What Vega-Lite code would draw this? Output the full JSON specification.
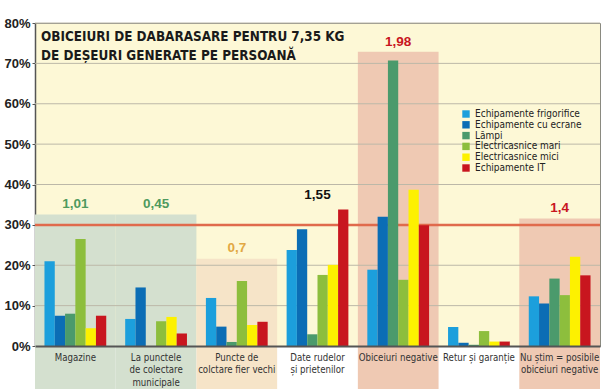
{
  "$schema": "https://vega.github.io/schema/vega-lite/v6.json",
  "width": 565,
  "height": 323,
  "autosize": {"type": "none"},
  "padding": {"left": 35, "top": 23, "right": 5, "bottom": 43},
  "background": "white",
  "config": {
    "view": {"fill": "#fdf8d6", "stroke": "#8a8a80", "strokeWidth": 1},
    "font": "'DejaVu Sans Condensed', 'Liberation Sans Narrow', Roboto, sans-serif"
  },
  "title": {
    "text": ["OBICEIURI DE DABARASARE PENTRU 7,35 KG", "DE DEȘEURI GENERATE PE PERSOANĂ"],
    "anchor": "start",
    "frame": "group",
    "orient": "top",
    "offset": -45,
    "dx": 6,
    "font": "'DejaVu Sans Condensed', 'Liberation Sans Narrow', Roboto, sans-serif",
    "fontSize": 13.4,
    "fontWeight": "bold",
    "color": "#1a1a1a",
    "lineHeight": 18.5
  },
  "datasets": {
    "bars": [
      {"loc": "Magazine", "tip": "Echipamente frigorifice", "pct": 21.0},
      {"loc": "Magazine", "tip": "Echipamente cu ecrane", "pct": 7.5},
      {"loc": "Magazine", "tip": "Lămpi", "pct": 8.0},
      {"loc": "Magazine", "tip": "Electricasnice mari", "pct": 26.5},
      {"loc": "Magazine", "tip": "Electricasnice mici", "pct": 4.4},
      {"loc": "Magazine", "tip": "Echipamente IT", "pct": 7.5},
      {"loc": "La punctele|de colectare|municipale", "tip": "Echipamente frigorifice", "pct": 6.7},
      {"loc": "La punctele|de colectare|municipale", "tip": "Echipamente cu ecrane", "pct": 14.5},
      {"loc": "La punctele|de colectare|municipale", "tip": "Lămpi", "pct": 0},
      {"loc": "La punctele|de colectare|municipale", "tip": "Electricasnice mari", "pct": 6.1},
      {"loc": "La punctele|de colectare|municipale", "tip": "Electricasnice mici", "pct": 7.2},
      {"loc": "La punctele|de colectare|municipale", "tip": "Echipamente IT", "pct": 3.1},
      {"loc": "Puncte de|colctare fier vechi", "tip": "Echipamente frigorifice", "pct": 11.9},
      {"loc": "Puncte de|colctare fier vechi", "tip": "Echipamente cu ecrane", "pct": 4.8},
      {"loc": "Puncte de|colctare fier vechi", "tip": "Lămpi", "pct": 1.0},
      {"loc": "Puncte de|colctare fier vechi", "tip": "Electricasnice mari", "pct": 16.1},
      {"loc": "Puncte de|colctare fier vechi", "tip": "Electricasnice mici", "pct": 5.2},
      {"loc": "Puncte de|colctare fier vechi", "tip": "Echipamente IT", "pct": 6.0},
      {"loc": "Date rudelor|și prietenilor", "tip": "Echipamente frigorifice", "pct": 23.8},
      {"loc": "Date rudelor|și prietenilor", "tip": "Echipamente cu ecrane", "pct": 28.9},
      {"loc": "Date rudelor|și prietenilor", "tip": "Lămpi", "pct": 2.9},
      {"loc": "Date rudelor|și prietenilor", "tip": "Electricasnice mari", "pct": 17.6},
      {"loc": "Date rudelor|și prietenilor", "tip": "Electricasnice mici", "pct": 20.1},
      {"loc": "Date rudelor|și prietenilor", "tip": "Echipamente IT", "pct": 33.8},
      {"loc": "Obiceiuri negative", "tip": "Echipamente frigorifice", "pct": 18.9},
      {"loc": "Obiceiuri negative", "tip": "Echipamente cu ecrane", "pct": 32.0},
      {"loc": "Obiceiuri negative", "tip": "Lămpi", "pct": 70.7},
      {"loc": "Obiceiuri negative", "tip": "Electricasnice mari", "pct": 16.4},
      {"loc": "Obiceiuri negative", "tip": "Electricasnice mici", "pct": 38.7},
      {"loc": "Obiceiuri negative", "tip": "Echipamente IT", "pct": 29.9},
      {"loc": "Retur și garanție", "tip": "Echipamente frigorifice", "pct": 4.7},
      {"loc": "Retur și garanție", "tip": "Echipamente cu ecrane", "pct": 0.8},
      {"loc": "Retur și garanție", "tip": "Lămpi", "pct": 0.3},
      {"loc": "Retur și garanție", "tip": "Electricasnice mari", "pct": 3.7},
      {"loc": "Retur și garanție", "tip": "Electricasnice mici", "pct": 1.1},
      {"loc": "Retur și garanție", "tip": "Echipamente IT", "pct": 1.1},
      {"loc": "Nu știm = posibile|obiceiuri negative", "tip": "Echipamente frigorifice", "pct": 12.3},
      {"loc": "Nu știm = posibile|obiceiuri negative", "tip": "Echipamente cu ecrane", "pct": 10.5},
      {"loc": "Nu știm = posibile|obiceiuri negative", "tip": "Lămpi", "pct": 16.7},
      {"loc": "Nu știm = posibile|obiceiuri negative", "tip": "Electricasnice mari", "pct": 12.6},
      {"loc": "Nu știm = posibile|obiceiuri negative", "tip": "Electricasnice mici", "pct": 22.1},
      {"loc": "Nu știm = posibile|obiceiuri negative", "tip": "Echipamente IT", "pct": 17.5}
    ],
    "boxes": [
      {"loc": "Magazine", "top": 32.6, "fel": "verde"},
      {"loc": "La punctele|de colectare|municipale", "top": 32.6, "fel": "verde"},
      {"loc": "Puncte de|colctare fier vechi", "top": 21.6, "fel": "bej"},
      {"loc": "Obiceiuri negative", "top": 72.9, "fel": "roz"},
      {"loc": "Nu știm = posibile|obiceiuri negative", "top": 31.6, "fel": "roz"}
    ],
    "notes": [
      {"loc": "Magazine", "y": 35.1, "txt": "1,01", "fel": "verde"},
      {"loc": "La punctele|de colectare|municipale", "y": 35.1, "txt": "0,45", "fel": "verde"},
      {"loc": "Puncte de|colctare fier vechi", "y": 24.2, "txt": "0,7", "fel": "aur"},
      {"loc": "Date rudelor|și prietenilor", "y": 37.5, "txt": "1,55", "fel": "negru"},
      {"loc": "Obiceiuri negative", "y": 75.3, "txt": "1,98", "fel": "rosu"},
      {"loc": "Nu știm = posibile|obiceiuri negative", "y": 34.3, "txt": "1,4", "fel": "rosu"}
    ],
    "grid": [
      {"g": 10}, {"g": 20}, {"g": 40}, {"g": 50}, {"g": 60}, {"g": 70}, {"g": 80}
    ],
    "ref": [{"v": 30}]
  },
  "resolve": {"scale": {"color": "independent", "fill": "independent"}},
  "layer": [
    {
      "data": {"name": "boxes"},
      "mark": {"type": "bar", "clip": false},
      "encoding": {
        "x": {
          "field": "loc",
          "type": "nominal",
          "sort": ["Magazine", "La punctele|de colectare|municipale", "Puncte de|colctare fier vechi", "Date rudelor|și prietenilor", "Obiceiuri negative", "Retur și garanție", "Nu știm = posibile|obiceiuri negative"],
          "scale": {"domain": ["Magazine", "La punctele|de colectare|municipale", "Puncte de|colctare fier vechi", "Date rudelor|și prietenilor", "Obiceiuri negative", "Retur și garanție", "Nu știm = posibile|obiceiuri negative"], "paddingInner": 0, "paddingOuter": 0},
          "axis": {
            "title": null,
            "labelExpr": "split(datum.label, '|')",
            "labelAngle": 0,
            "labelFontSize": 9.6,
            "labelColor": "#333333",
            "labelLineHeight": 12.5,
            "labelPadding": 6,
            "labelBaseline": "top",
            "ticks": false,
            "domainColor": "#555555",
            "domainWidth": 2,
            "zindex": 1
          }
        },
        "y": {"field": "top", "type": "quantitative", "scale": {"domain": [0, 80], "nice": false}, "axis": {
          "title": null,
          "values": [0, 10, 20, 30, 40, 50, 60, 70, 80],
          "labelExpr": "datum.value + '%'",
          "labelFont": "Liberation Sans",
          "labelFontWeight": "bold",
          "labelFontSize": 13,
          "labelColor": "#222222",
          "labelPadding": 2,
          "tickSize": 3,
          "tickColor": "#555555",
          "domainColor": "#555555",
          "domainWidth": 1.5,
          "grid": false
        }},
        "y2": {"datum": -12},
        "fill": {"field": "fel", "type": "nominal", "scale": {"domain": ["verde", "bej", "roz"], "range": ["#d4e0cf", "#f6e4c8", "#efc9b3"]}, "legend": null}
      }
    },
    {
      "data": {"name": "grid"},
      "mark": {"type": "rule", "color": "#bcb8a8", "strokeWidth": 1},
      "encoding": {"y": {"field": "g", "type": "quantitative"}}
    },
    {
      "data": {"name": "ref"},
      "mark": {"type": "rule", "color": "#e06a4c", "strokeWidth": 2.5},
      "encoding": {"y": {"field": "v", "type": "quantitative"}}
    },
    {
      "data": {"name": "bars"},
      "mark": {"type": "bar"},
      "encoding": {
        "x": {"field": "loc", "type": "nominal"},
        "y": {"field": "pct", "type": "quantitative"},
        "xOffset": {"field": "tip", "type": "nominal", "sort": ["Echipamente frigorifice", "Echipamente cu ecrane", "Lămpi", "Electricasnice mari", "Electricasnice mici", "Echipamente IT"], "scale": {"paddingInner": 0, "paddingOuter": 0.92}},
        "color": {
          "field": "tip",
          "type": "nominal",
          "sort": ["Echipamente frigorifice", "Echipamente cu ecrane", "Lămpi", "Electricasnice mari", "Electricasnice mici", "Echipamente IT"],
          "scale": {"domain": ["Echipamente frigorifice", "Echipamente cu ecrane", "Lămpi", "Electricasnice mari", "Electricasnice mici", "Echipamente IT"], "range": ["#1c9fdc", "#0b6db5", "#4b9a6c", "#8dbe3d", "#fdf100", "#c8161f"]},
          "legend": {
            "title": null,
            "orient": "none",
            "legendX": 426,
            "legendY": 86,
            "symbolType": "square",
            "symbolSize": 55,
            "symbolStrokeWidth": 0,
            "labelFontSize": 10,
            "labelColor": "#222222",
            "labelOffset": 4,
            "rowPadding": 0.8
          }
        }
      }
    },
    {
      "data": {"name": "notes"},
      "mark": {"type": "text", "font": "Liberation Sans", "fontWeight": "bold", "fontSize": 13.5, "baseline": "middle", "align": "center"},
      "encoding": {
        "x": {"field": "loc", "type": "nominal"},
        "y": {"field": "y", "type": "quantitative"},
        "text": {"field": "txt"},
        "color": {"field": "fel", "type": "nominal", "scale": {"domain": ["verde", "aur", "negru", "rosu"], "range": ["#4f9a5e", "#e2a843", "#111111", "#c8161f"]}, "legend": null}
      }
    }
  ]
}
